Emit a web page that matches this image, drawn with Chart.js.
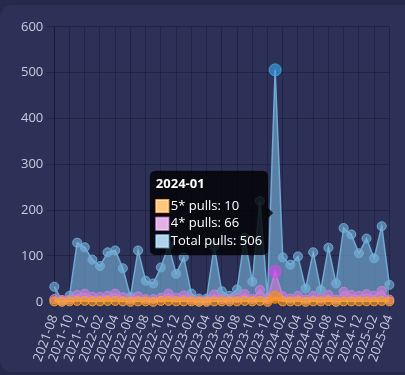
<!DOCTYPE html>
<html lang="en">
<head>
  <meta charset="UTF-8" />
  <title>Pulls per month</title>
  <style>
    * {
      margin: 0;
      padding: 0;
    }

    body {
      width: 405px;
      height: 375px;
      background: #262a4a;
      overflow: hidden;
      font-family: "Open Sans", sans-serif;
    }

    .chartCard {
      position: absolute;
      left: 0;
      top: 5px;
      width: 420px;
      height: 367px;
      border-radius: 12px;
      background: #2d3158;
    }

    .chartBox {
      position: absolute;
      left: 18px;
      top: 16px;
      width: 389px;
      height: 351px;
    }
  </style>
</head>
<body>
  <div class="chartCard"></div>
  <div class="chartBox">
    <canvas id="myChart"></canvas>
  </div>
  <script src="https://cdn.jsdelivr.net/npm/chart.js@4"></script>
  <script>
    // months 2021-08 .. 2025-04
    const months = [];
    for (let y = 2021; y <= 2025; y++) {
      for (let m = 1; m <= 12; m++) {
        if (y === 2021 && m < 8) continue;
        if (y === 2025 && m > 4) continue;
        months.push(y + "-" + String(m).padStart(2, "0"));
      }
    }

    const fiveStar = [
      1, 0, 1, 2, 2, 1, 1, 2, 2, 1, 0, 1, 1, 0, 2,
      2, 1, 1, 1, 0, 0, 1, 1, 1, 1, 2, 1, 2, 0, 10,
      1, 1, 1, 0, 1, 1, 2, 0, 1, 1, 1, 1, 1, 2, 1
    ];
    const fourStar = [
      6, 4, 5, 15, 18, 11, 11, 13, 18, 10, 5, 12, 6, 6, 9,
      18, 9, 14, 5, 3, 3, 16, 6, 5, 8, 17, 6, 26, 5, 66,
      12, 7, 13, 5, 13, 7, 15, 5, 22, 15, 13, 17, 13, 24, 5
    ];
    const totalPulls = [
      33, 3, 13, 129, 119, 92, 78, 108, 112, 73, 11, 112, 46, 40, 75,
      123, 61, 97, 18, 7, 7, 121, 23, 13, 27, 140, 44, 220, 10, 506,
      97, 81, 99, 29, 108, 26, 118, 40, 161, 147, 106, 138, 95, 165, 37
    ];

    const tickColor = "#c9cce0";
    const gridColor = "rgba(20, 22, 45, 0.45)";

    const data = {
      labels: months,
      datasets: [
        {
          label: "5* pulls",
          data: fiveStar,
          borderColor: "rgb(255, 160, 40)",
          backgroundColor: "rgba(255, 160, 40, 0.6)",
          fill: true,
        },
        {
          label: "4* pulls",
          data: fourStar,
          borderColor: "rgb(205, 125, 215)",
          backgroundColor: "rgba(205, 125, 215, 0.6)",
          fill: true,
        },
        {
          label: "Total pulls",
          data: totalPulls,
          borderColor: "rgb(110, 170, 210)",
          backgroundColor: "rgba(120, 180, 220, 0.6)",
          fill: true,
        },
      ],
    };

    const options = {
      responsive: true,
      maintainAspectRatio: false,
      animation: false,
      elements: {
        point: {
          radius: 4.5,
          hoverRadius: 6,
          borderWidth: 1,
        },
        line: {
          borderWidth: 1.5,
          tension: 0,
        },
      },
      interaction: {
        mode: "index",
        intersect: false,
      },
      scales: {
        x: {
          grid: {
            color: gridColor,
          },
          border: {
            color: "rgba(20, 22, 45, 0.8)",
          },
          // every other month gets a tick, like the original
          afterBuildTicks: (axis) => {
            axis.ticks = axis.ticks.filter((t, i) => i % 2 === 0);
          },
          ticks: {
            autoSkip: false,
            color: tickColor,
            font: { size: 13, family: "'Open Sans', sans-serif" },
            minRotation: 70,
            maxRotation: 70,
          },
        },
        y: {
          beginAtZero: true,
          max: 600,
          grid: {
            color: gridColor,
          },
          border: {
            color: "rgba(20, 22, 45, 0.8)",
          },
          ticks: {
            color: tickColor,
            stepSize: 100,
            font: { size: 13, family: "'Open Sans', sans-serif" },
          },
        },
      },
      plugins: {
        legend: {
          display: false,
        },
        tooltip: {
          position: "average",
          backgroundColor: "rgba(0, 0, 0, 0.8)",
          titleFont: { size: 13, weight: "bold", family: "'Open Sans', sans-serif" },
          bodyFont: { size: 13, family: "'Open Sans', sans-serif" },
          padding: 6,
          cornerRadius: 6,
        },
      },
    };

    const ctx = document.getElementById("myChart").getContext("2d");
    const myChart = new Chart(ctx, {
      type: "line",
      data: data,
      options: options,
    });

    // show the hover state for 2024-01
    const idx = months.indexOf("2024-01");
    const active = [0, 1, 2].map((d) => ({ datasetIndex: d, index: idx }));
    myChart.setActiveElements(active);
    myChart.tooltip.setActiveElements(active, { x: 0, y: 0 });
    myChart.update();
  </script>
</body>
</html>
